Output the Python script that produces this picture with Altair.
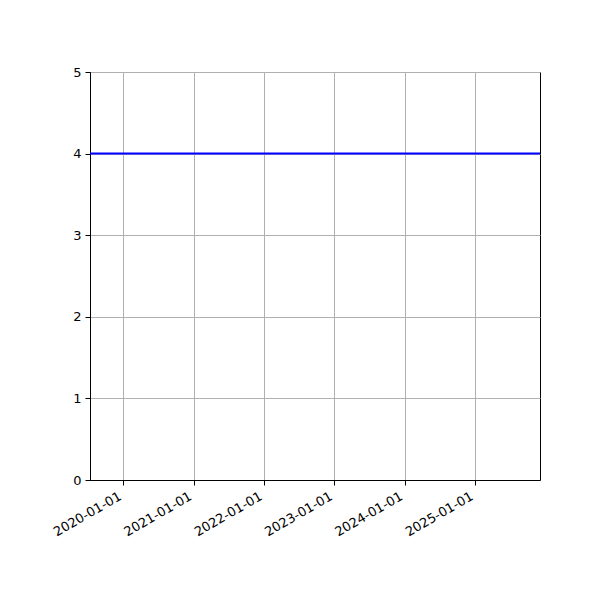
import altair as alt
import pandas as pd

# data: a flat line at 4
dates = ["2019-07-12", "2025-12-04"]
values = [4, 4]
tick_years = [2020, 2021, 2022, 2023, 2024, 2025]

df = pd.DataFrame({"date": dates, "value": values})

x_ticks = [alt.DateTime(year=y, month=1, date=1, utc=True) for y in tick_years]

line = alt.Chart(df).mark_line(color="blue", strokeWidth=2, clip=True).encode(
    x=alt.X(
        "date:T",
        title=None,
        scale=alt.Scale(
            type="utc",
            domain=[alt.DateTime(year=2019, month=7, date=12, utc=True),
                    alt.DateTime(year=2025, month=12, date=4, utc=True)],
            nice=False,
        ),
        axis=alt.Axis(
            values=x_ticks,
            format="%Y-%m-%d",
            labelAngle=330,
            labelAlign="right",
            labelBaseline="bottom",
            labelPadding=16,
            labelOverlap=False,
            labelBound=False,
        ),
    ),
    y=alt.Y(
        "value:Q",
        title=None,
        scale=alt.Scale(domain=[0, 5], nice=False, zero=False),
        axis=alt.Axis(values=[0, 1, 2, 3, 4, 5], labelPadding=4),
    ),
)

chart = line.properties(
    width=450,
    height=408,
    autosize=alt.AutoSizeParams(type="none"),
    padding={"left": 82, "top": 64, "right": 52, "bottom": 112},
).configure_view(
    stroke="black", strokeWidth=1
).configure_axis(
    grid=True,
    gridColor="#b0b0b0",
    gridWidth=1,
    domainColor="black",
    tickColor="black",
    tickSize=5,
    labelColor="black",
    labelFont="DejaVu Sans",
    labelFontSize=13,
)

chart.save("out.html", embed_options={"renderer": "svg", "actions": False})
